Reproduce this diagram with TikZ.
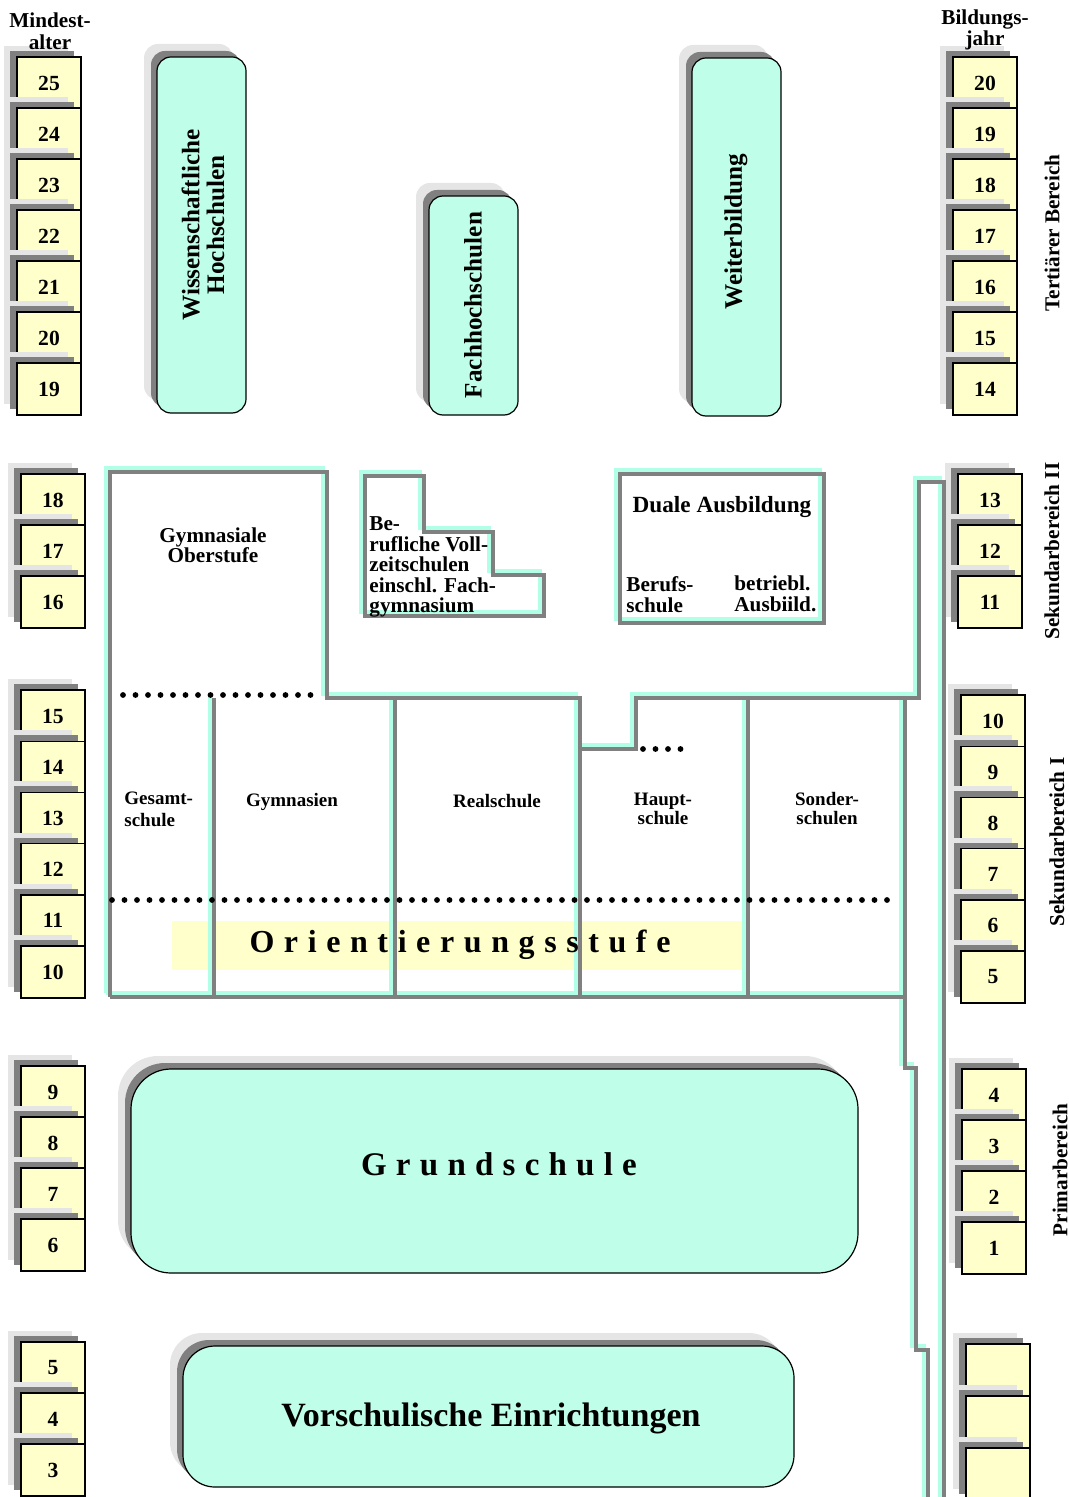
\documentclass[tikz,border=0pt]{standalone}
\usepackage{fontspec}
\setmainfont{Liberation Serif}
\definecolor{lgray}{RGB}{229,229,229}
\definecolor{dgray}{RGB}{128,128,128}
\definecolor{yel}{RGB}{255,255,204}
\definecolor{cyf}{RGB}{191,255,234}
\definecolor{cyl}{RGB}{178,255,232}
\definecolor{wallgray}{RGB}{128,128,128}
\tikzset{
  numbox/.style={draw=black, line width=0.7pt, fill=yel, minimum width=32pt, minimum height=26pt, inner sep=0pt, font=\fontsize{10.8}{11}\selectfont\bfseries},
  lab/.style={inner sep=0pt, align=center, font=\fontsize{10.6}{10.6}\selectfont\bfseries},
  biglab/.style={inner sep=0pt, align=center, font=\fontsize{12.6}{12.6}\selectfont\bfseries},
  smalllab/.style={inner sep=0pt, align=center, font=\fontsize{9.5}{9.5}\selectfont\bfseries},
  cyanwall/.style={draw=cyl, line width=2pt},
  graywall/.style={draw=wallgray, line width=1.8pt},
  dotline/.style={line width=2.9pt, dash pattern=on 0pt off 6.25pt, line cap=round},
}
\newcommand\nbox[4]{%
  \fill[lgray] ({#2-13},{#3-11}) rectangle ++(64,52);
  \fill[dgray] ({#2-7},{#3-6}) rectangle ++(64,52);
  \node[numbox] (#1) at ({#2+32},{#3+26}) {#4};
}
\newcommand\rbox[5]{%
  \fill[lgray, rounded corners=#5] ({#1-13},{#2-13}) rectangle ({#3-13},{#4-13});
  \fill[dgray, rounded corners=#5] ({#1-6},{#2-6}) rectangle ({#3-6},{#4-6});
  \filldraw[fill=cyf, draw=black, line width=0.6pt, rounded corners=#5] (#1,#2) rectangle (#3,#4);
}
\begin{document}
\begin{tikzpicture}[x=0.5pt, y=-0.5pt]
\useasboundingbox (0,0) rectangle (1069,1497);
\clip (0,0) rectangle (1069,1497);

% left stacks
\foreach \lab [count=\i from 0] in {25,24,23,22,21,20,19} {\nbox{La\lab}{17}{57+51*\i}{\lab}}
\foreach \lab [count=\i from 0] in {18,17,16} {\nbox{Lb\lab}{21}{474+51*\i}{\lab}}
\foreach \lab [count=\i from 0] in {15,14,13,12,11,10} {\nbox{Lc\lab}{21}{690+51.2*\i}{\lab}}
\foreach \lab [count=\i from 0] in {9,8,7,6} {\nbox{Ld\lab}{21}{1066+51*\i}{\lab}}
\foreach \lab [count=\i from 0] in {5,4,3} {\nbox{Le\lab}{21}{1342+51*\i}{\lab}}

% right stacks
\foreach \lab [count=\i from 0] in {20,19,18,17,16,15,14} {\nbox{Ra\lab}{953}{57+51*\i}{\lab}}
\foreach \lab [count=\i from 0] in {13,12,11} {\nbox{Rb\lab}{958}{474+51*\i}{\lab}}
\foreach \lab [count=\i from 0] in {10,9,8,7,6,5} {\nbox{Rc\lab}{961}{695+51.2*\i}{\lab}}
\foreach \lab [count=\i from 0] in {4,3,2,1} {\nbox{Rd\lab}{962}{1069+51*\i}{\lab}}
\foreach \i in {0,1,2} {\nbox{Re\i}{966}{1344+52*\i}{}}

% headers
\node[lab, font=\fontsize{10.6}{11}\selectfont\bfseries] (mindest) at (50,31) {Mindest-\\alter};
\node[lab, font=\fontsize{10.6}{10.6}\selectfont\bfseries] (bildung) at (985,30) {Bildungs-\\jahr};

% right side labels
\node[lab, rotate=90] (tert) at (1052,233) {Tertiärer Bereich};
\node[lab, rotate=90] (sek2) at (1052,551) {Sekundarbereich II};
\node[lab, rotate=90] (sek1) at (1057,842) {Sekundarbereich I};
\node[lab, rotate=90] (prim) at (1060,1170) {Primarbereich};

% tertiary boxes
\rbox{157}{57}{246}{413}{7pt}
\node[biglab, rotate=90] (wiss) at (203,225) {Wissenschaftliche\\[-0.2pt]Hochschulen};
\rbox{429}{196}{518}{415}{7pt}
\node[biglab, rotate=90] (fh) at (473,305) {Fachhochschulen};
\rbox{692}{58}{781}{416}{7pt}
\node[biglab, rotate=90] (weiter) at (736,232) {Weiterbildung};

% Orientierungsstufe band
\fill[yel] (172,921) rectangle (743,970);

% walls
\foreach \st/\sh in {cyanwall/-4, graywall/0} {
  \draw[\st, shift={(\sh,\sh)}]
    (110,997) -- (110,472) -- (327,472) -- (327,698) -- (580,698) -- (580,997)
    (580,749) -- (636,749) -- (636,698) -- (905,698) -- (905,1068) -- (916,1068) -- (916,1350) -- (928,1350) -- (928,1520)
    (905,698) -- (919,698) -- (919,482) -- (944,482) -- (944,1520)
    (110,997) -- (905,997)
    (214,698) -- (214,997)
    (395,698) -- (395,997)
    (748,698) -- (748,997)
    (365,476) -- (424,476) -- (424,532) -- (493,532) -- (493,575) -- (544,575) -- (544,616) -- (365,616) -- cycle
    (620,474) rectangle (824,623);
}

% dotted lines
\draw[dotline] (123,695) -- (318,695);
\draw[dotline] (112,900) -- (896,900);
\draw[dotline] (643,749) -- (681,749);

% texts in secondary block
\node[lab, font=\fontsize{10.6}{10}\selectfont\bfseries] (gymob) at (213,545) {Gymnasiale\\Oberstufe};
\node[lab, align=left, anchor=west, font=\fontsize{10.6}{10.2}\selectfont\bfseries] (beruf) at (369,567) {Be-\\rufliche Voll-\\zeitschulen\\einschl. Fach-\\gymnasium};
\node[lab, font=\fontsize{11.6}{12}\selectfont\bfseries] (duale) at (722,507) {Duale Ausbildung};
\node[lab, align=left, anchor=west] (berufs) at (626,595) {Berufs-\\schule};
\node[lab, align=left, anchor=west] (betr) at (734,594) {betriebl.\\Ausbiild.};
\node[smalllab, align=left, anchor=west, font=\fontsize{9.5}{11}\selectfont\bfseries] (gesamt) at (124,809) {Gesamt-\\schule};
\node[smalllab] (gymn) at (292,802) {Gymnasien};
\node[smalllab] (real) at (497,801) {Realschule};
\node[smalllab] (haupt) at (663,809) {Haupt-\\schule};
\node[smalllab] (sonder) at (827,809) {Sonder-\\schulen};
\node[inner sep=0pt, font=\fontsize{16}{18}\selectfont\bfseries\addfontfeature{LetterSpace=30}] (orient) at (460,945) {Orientierungsstufe};

% primary and pre-school
\rbox{131}{1069}{858}{1273}{20pt}
\node[inner sep=0pt, font=\fontsize{16.5}{18}\selectfont\bfseries\addfontfeature{LetterSpace=28}] (grund) at (499,1164) {Grundschule};
\rbox{183}{1346}{794}{1487}{16pt}
\node[inner sep=0pt, font=\fontsize{17}{19}\selectfont\bfseries] (vor) at (491,1418) {Vorschulische Einrichtungen};
\end{tikzpicture}
\end{document}
